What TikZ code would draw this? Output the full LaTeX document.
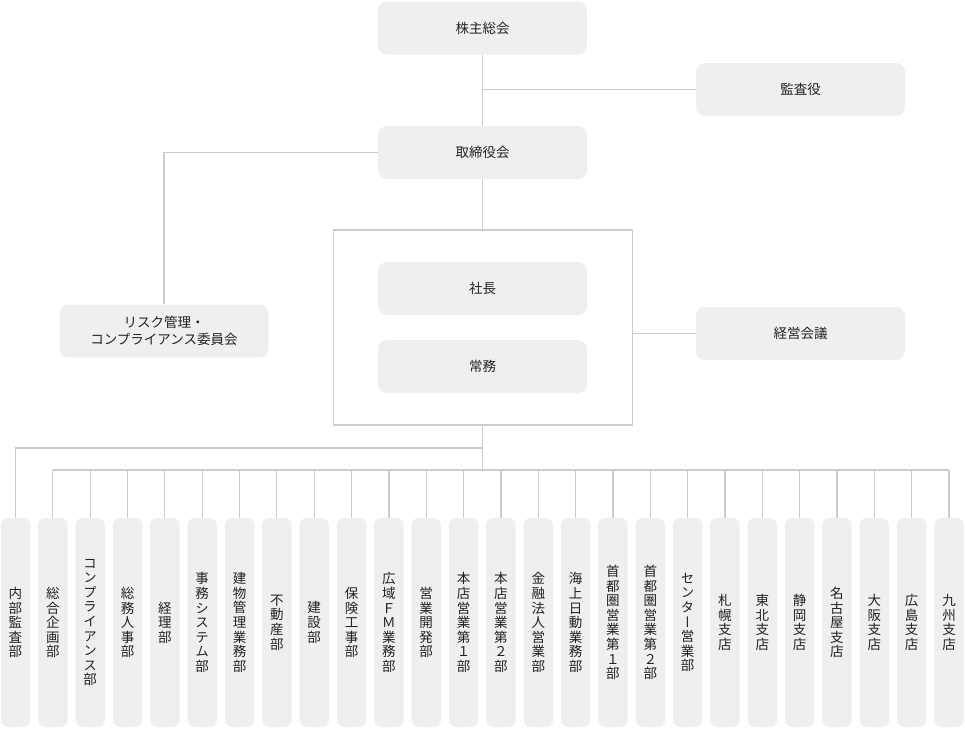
\documentclass[tikz,border=0pt]{standalone}
\usepackage{fontspec}
\setmainfont{Noto Sans CJK JP}
\newfontfamily\tatefont[RawFeature=+vert]{Noto Sans CJK JP}
\definecolor{boxgray}{HTML}{EFEFEF}
\definecolor{linegray}{HTML}{CCCCCC}
\definecolor{textgray}{HTML}{222222}

\begin{document}
\begin{tikzpicture}[x = 1pt, y = -1pt,
  post/.style = {fill = boxgray, rounded corners = 9pt, minimum width = 209pt, minimum height = 53pt, inner sep = 0pt, text = textgray, align = center, font = \fontsize{13.5}{17.5}\selectfont},
  dept/.style = {fill = boxgray, rounded corners = 7pt, minimum width = 29.5pt, minimum height = 209pt, inner sep = 0pt, text = textgray, align = center, font = \tatefont\fontsize{13.5}{14.6}\selectfont},
  link/.style = {draw = linegray, line width = 1.2pt}]
\useasboundingbox (0, 0) rectangle (965, 728);
% top management
\node[post] (kabu) at (482.5, 28.0){株主総会};
\node[post] (kansa) at (800.5, 89.5){監査役};
\node[post] (tori) at (482.5, 152.5){取締役会};
\node[draw = linegray, line width = 1.2pt, minimum width = 299pt, minimum height = 195pt, inner sep = 0pt] (exec) at (483.0, 327.5){};
\node[post] (shacho) at (482.5, 288.5){社長};
\node[post] (jomu) at (482.5, 366.5){常務};
\node[post] (keiei) at (800.5, 333.5){経営会議};
\node[post] (risk) at (164.0, 331.0){リスク管理・\\コンプライアンス委員会};
\draw[link] (kabu.south) -- (tori.north);
\draw[link] (kansa.west) -- (kansa.west -| kabu.south);
\draw[link] (tori.south) -- (tori.south |- exec.north);
\draw[link] (risk.north) |- (tori.west);
\draw[link] (keiei.west) -- (keiei.west -| exec.east);
% departments
\node[dept] (d1) at (15.5, 622.5){内\\部\\監\\査\\部};
\node[dept] (d2) at (52.84, 622.5){総\\合\\企\\画\\部};
\node[dept] (d3) at (90.18, 622.5){コ\\ン\\プ\\ラ\\イ\\ア\\ン\\ス\\部};
\node[dept] (d4) at (127.52, 622.5){総\\務\\人\\事\\部};
\node[dept] (d5) at (164.86, 622.5){経\\理\\部};
\node[dept] (d6) at (202.2, 622.5){事\\務\\シ\\ス\\テ\\ム\\部};
\node[dept] (d7) at (239.54, 622.5){建\\物\\管\\理\\業\\務\\部};
\node[dept] (d8) at (276.88, 622.5){不\\動\\産\\部};
\node[dept] (d9) at (314.22, 622.5){建\\設\\部};
\node[dept] (d10) at (351.56, 622.5){保\\険\\工\\事\\部};
\node[dept] (d11) at (388.9, 622.5){広\\域\\Ｆ\\Ｍ\\業\\務\\部};
\node[dept] (d12) at (426.24, 622.5){営\\業\\開\\発\\部};
\node[dept] (d13) at (463.58, 622.5){本\\店\\営\\業\\第\\１\\部};
\node[dept] (d14) at (500.92, 622.5){本\\店\\営\\業\\第\\２\\部};
\node[dept] (d15) at (538.26, 622.5){金\\融\\法\\人\\営\\業\\部};
\node[dept] (d16) at (575.6, 622.5){海\\上\\日\\動\\業\\務\\部};
\node[dept] (d17) at (612.94, 622.5){首\\都\\圏\\営\\業\\第\\１\\部};
\node[dept] (d18) at (650.28, 622.5){首\\都\\圏\\営\\業\\第\\２\\部};
\node[dept] (d19) at (687.62, 622.5){セ\\ン\\タ\\ー\\営\\業\\部};
\node[dept] (d20) at (724.96, 622.5){札\\幌\\支\\店};
\node[dept] (d21) at (762.3, 622.5){東\\北\\支\\店};
\node[dept] (d22) at (799.64, 622.5){静\\岡\\支\\店};
\node[dept] (d23) at (836.98, 622.5){名\\古\\屋\\支\\店};
\node[dept] (d24) at (874.32, 622.5){大\\阪\\支\\店};
\node[dept] (d25) at (911.66, 622.5){広\\島\\支\\店};
\node[dept] (d26) at (949.0, 622.5){九\\州\\支\\店};
% buses
\coordinate (busA) at (482.5, 448.0);
\coordinate (busB) at (482.5, 470.0);
\draw[link] (exec.south -| busB) -- (busB);
\draw[link] (d1.north) |- (busA);
\draw[link] (d2.north |- busB) -- (d26.north |- busB);
\draw[link] (d2.north) -- (d2.north |- busB);
\draw[link] (d3.north) -- (d3.north |- busB);
\draw[link] (d4.north) -- (d4.north |- busB);
\draw[link] (d5.north) -- (d5.north |- busB);
\draw[link] (d6.north) -- (d6.north |- busB);
\draw[link] (d7.north) -- (d7.north |- busB);
\draw[link] (d8.north) -- (d8.north |- busB);
\draw[link] (d9.north) -- (d9.north |- busB);
\draw[link] (d10.north) -- (d10.north |- busB);
\draw[link] (d11.north) -- (d11.north |- busB);
\draw[link] (d12.north) -- (d12.north |- busB);
\draw[link] (d13.north) -- (d13.north |- busB);
\draw[link] (d14.north) -- (d14.north |- busB);
\draw[link] (d15.north) -- (d15.north |- busB);
\draw[link] (d16.north) -- (d16.north |- busB);
\draw[link] (d17.north) -- (d17.north |- busB);
\draw[link] (d18.north) -- (d18.north |- busB);
\draw[link] (d19.north) -- (d19.north |- busB);
\draw[link] (d20.north) -- (d20.north |- busB);
\draw[link] (d21.north) -- (d21.north |- busB);
\draw[link] (d22.north) -- (d22.north |- busB);
\draw[link] (d23.north) -- (d23.north |- busB);
\draw[link] (d24.north) -- (d24.north |- busB);
\draw[link] (d25.north) -- (d25.north |- busB);
\draw[link] (d26.north) -- (d26.north |- busB);
\end{tikzpicture}
\end{document}
